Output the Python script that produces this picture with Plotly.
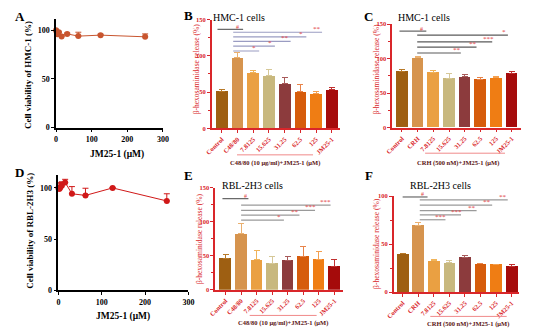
import plotly.graph_objects as go

# ---------------- data ----------------
conc = [0, 1.95, 3.9, 7.8, 15.6, 31.25, 62.5, 125, 250]
via_hmc = [100, 98.3, 96, 98, 93.7, 96.3, 94, 95, 93.3]
via_hmc_err = [1, 1, 1.5, 1, 2, 1, 4, 1, 3]
via_rbl = [100, 99, 100, 102, 105.4, 94.3, 92.7, 100, 87.3]
via_rbl_err = [5, 6, 5, 4, 3, 7, 7, 0.5, 7]

cats_c48 = ["Control", "C48/80", "7.8125", "15.625", "31.25", "62.5", "125", "JM25-1"]
cats_crh = ["Control", "CRH", "7.8125", "15.625", "31.25", "62.5", "125", "JM25-1"]

rel_B = [51.4, 97.7, 76.6, 73.4, 61.3, 50.5, 48.2, 53.2]
rel_B_err = [2.7, 7.2, 3.6, 7.2, 8.1, 9.9, 2.7, 3.6]
rel_C = [81.2, 101.4, 80.3, 71.8, 73.7, 70.4, 72.3, 78.4]
rel_C_err = [2.8, 1.4, 2.8, 6.6, 3.3, 2.8, 1.4, 3.3]
rel_E = [46.4, 82.8, 44.0, 39.2, 43.5, 49.3, 45.0, 34.9]
rel_E_err = [5.3, 15.3, 14.4, 9.6, 5.3, 13.9, 11.0, 9.6]
rel_F = [39.9, 69.3, 32.8, 30.4, 36.5, 29.7, 28.7, 27.0]
rel_F_err = [0.5, 2.7, 1.0, 2.7, 1.7, 0.4, 0.4, 1.7]

# significance: (label, from bar, to bar, height)
sig_B = [("#", 0, 1, 136.6), ("**", 1, 6, 132.5), ("*", 1, 5, 126.2),
         ("**", 1, 4, 120.0), ("*", 1, 3, 113.3), ("*", 1, 2, 106.6)]
sig_C = [("#", 0, 1, 140.0), ("*", 1, 6, 134.0), ("***", 1, 5, 124.2),
         ("**", 1, 4, 116.7), ("**", 1, 3, 108.2)]
sig_E = [("#", 0, 1, 134.2), ("***", 1, 6, 124.6), ("***", 1, 5, 117.0),
         ("**", 1, 4, 109.9), ("*", 1, 3, 102.7)]
sig_F = [("#", 0, 1, 99.0), ("**", 1, 6, 96.0), ("**", 1, 5, 90.5),
         ("**", 1, 4, 84.8), ("***", 1, 3, 80.3), ("***", 1, 2, 75.3)]

bar_colors = ["#9e5f12", "#d6944e", "#eaa042", "#c8b87e", "#8c3b3d", "#d65c0c", "#ef7d14", "#a50b0b"]
err_colors = ["#b87a2a", "#eab070", "#f0b45a", "#d6c898", "#a85a5a", "#e8844a", "#f4a050", "#c03030"]

# ---------------- helpers ----------------
W, H = 550, 336
RED = "#d9262a"
SERIF = "Liberation Serif"

def fx(p):
    return p / W

def fy(p):
    return 1 - p / H

fig = go.Figure()
shapes = []
annos = []

def pa(text, x, y, font, angle=0):
    annos.append(dict(text=text, x=fx(x), y=fy(y), xref="paper", yref="paper",
                      xanchor="center", yanchor="middle", textangle=angle,
                      showarrow=False, font=font))

# ---------------- line panels (A, D) ----------------
def line_panel(idx, xs, ys, errs, color, dom_x, dom_y, yrange, ytitle, ytitle_pos, xtitle_pos):
    xa = "x" if idx == 1 else f"x{idx}"
    ya = "y" if idx == 1 else f"y{idx}"
    fig.add_trace(go.Scatter(
        x=xs, y=ys, xaxis=xa, yaxis=ya, mode="lines+markers",
        line=dict(color=color, width=1),
        marker=dict(color=color, size=6),
        error_y=dict(type="data", array=errs, arrayminus=[0] * len(errs), symmetric=False,
                     color=color, thickness=1, width=3),
        cliponaxis=False, showlegend=False))
    axx = dict(domain=[fx(dom_x[0]), fx(dom_x[1])], range=[0, 300], anchor=ya,
               showline=True, linecolor="black", linewidth=1.6, ticks="outside", ticklen=3,
               tickwidth=1.3, tickcolor="black", tickvals=[0, 100, 200, 300], showgrid=False,
               zeroline=False, tickfont=dict(family=SERIF, size=8, color="black", weight="bold"))
    axy = dict(domain=[fy(dom_y[0]), fy(dom_y[1])], range=yrange, anchor=xa,
               showline=True, linecolor="black", linewidth=1.6, ticks="outside", ticklen=3,
               tickwidth=1.3, tickcolor="black", tickvals=[0, 50, 100], showgrid=False,
               zeroline=False, tickfont=dict(family=SERIF, size=8, color="black", weight="bold"))
    fig.layout[("xaxis" if idx == 1 else f"xaxis{idx}")] = axx
    fig.layout[("yaxis" if idx == 1 else f"yaxis{idx}")] = axy
    pa(ytitle, ytitle_pos[0], ytitle_pos[1],
       dict(family=SERIF, size=9, color="black", weight="bold"), -90)
    pa("JM25-1 (μM)", xtitle_pos[0], xtitle_pos[1],
       dict(family=SERIF, size=9.5, color="black", weight="bold"))

line_panel(1, conc, via_hmc, via_hmc_err, "#c8552f", (49.3, 159), (127, 15), [0, 112],
           "Cell viability of HMC-1 (%)", (20.5, 73), (112, 155))
line_panel(4, conc, via_rbl, via_rbl_err, "#d01818", (51.7, 185.2), (294.3, 175.3), [0, 113],
           "Cell viability of RBL-2H3 (%)", (23, 232.5), (118, 321))

# ---------------- bar panels (B, C, E, F) ----------------
def bar_panel(idx, cats, vals, errs, dom_x, dom_y, xrange, yrange, ytick, title, title_pos,
              ytitle_pos, sigs, offs, sig_col, group_line, group_text, group_text_pos):
    xa = f"x{idx}"
    ya = f"y{idx}"
    xs = list(range(len(cats)))
    for k in xs:
        fig.add_trace(go.Bar(
            x=[k], y=[vals[k]], xaxis=xa, yaxis=ya, width=0.75,
            marker=dict(color=bar_colors[k], line=dict(width=0)),
            error_y=dict(type="data", array=[errs[k]], arrayminus=[0], symmetric=False,
                         color=err_colors[k], thickness=1, width=3),
            showlegend=False))
    fig.layout[f"xaxis{idx}"] = dict(
        domain=[fx(dom_x[0]), fx(dom_x[1])], range=xrange, anchor=ya,
        showline=True, linecolor=RED, linewidth=1.6, ticks="outside", ticklen=3, tickwidth=1.2,
        tickcolor=RED, tickvals=xs, ticktext=cats, tickangle=-45, showgrid=False, zeroline=False,
        tickfont=dict(family=SERIF, size=6.5, color=RED, weight="bold"))
    fig.layout[f"yaxis{idx}"] = dict(
        domain=[fy(dom_y[0]), fy(dom_y[1])], range=yrange, anchor=xa,
        showline=True, linecolor=RED, linewidth=1.6, ticks="outside", ticklen=3, tickwidth=1.2,
        tickcolor=RED, tickvals=ytick, showgrid=False, zeroline=False,
        minor=dict(dtick=25, ticklen=2, tickcolor=RED, ticks="outside", showgrid=False),
        tickfont=dict(family=SERIF, size=6.5, color=RED, weight="bold"))
    pa(title, title_pos[0], title_pos[1], dict(family=SERIF, size=10, color="black"))
    pa("β-hexosaminidase release (%)", ytitle_pos[0], ytitle_pos[1],
       dict(family=SERIF, size=7.5, color=RED), -90)
    hs, he, hl, s, e, l = offs
    for lab, i, j, h in sigs:
        if lab == "#":
            x0, x1, xl, col = i + hs, j + he, j + hl, "#6a6a6a"
        else:
            x0, x1, xl, col = i + s, j + e, j + l, sig_col
        shapes.append(dict(type="line", xref=xa, yref=ya, x0=x0, x1=x1, y0=h, y1=h,
                           line=dict(color=col, width=1.2)))
        annos.append(dict(text=lab, x=xl, y=h, xref=xa, yref=ya, showarrow=False,
                          xanchor="center", yanchor="bottom", yshift=-3 if lab != "#" else -2.5,
                          font=dict(family=SERIF, size=7 if lab != "#" else 6, color="#e23a3a")))
    shapes.append(dict(type="line", xref="paper", yref="paper",
                       x0=fx(group_line[0]), x1=fx(group_line[1]), y0=fy(group_line[2]), y1=fy(group_line[2]),
                       line=dict(color="#f08a8a", width=1)))
    pa(group_text, group_text_pos[0], group_text_pos[1],
       dict(family=SERIF, size=6.5, color="#5a1414", weight="bold"))

bar_panel(2, cats_c48, rel_B, rel_B_err, (209.3, 341), (127.7, 16), [-0.62, 7.54], [0, 150],
          [0, 50, 100, 150], "HMC-1 cells", (237.5, 13.5), (193, 67), sig_B,
          (-0.27, 0.36, 0.03, -0.27, 0.38, 0.05), "#9a9cc2",
          (235, 313, 155), "C48/80 (10 μg/ml)+JM25-1 (μM)", (274, 163.5))
bar_panel(3, cats_crh, rel_C, rel_C_err, (394.3, 526), (127, 20.7), [-0.62, 7.56], [0, 150],
          [0, 50, 100, 150], "HMC-1 cells", (426.7, 13.5), (378, 67), sig_C,
          (-0.16, 0.55, 0.22, -0.03, 0.75, 0.5), "#5a5a5a",
          (428, 510, 153.3), "CRH (500 nM)+JM25-1 (μM)", (461.7, 163))
bar_panel(5, cats_c48, rel_E, rel_E_err, (212.7, 343.3), (293.7, 189), [-0.66, 7.52], [0, 150],
          [0, 50, 100, 150], "RBL-2H3 cells", (250.8, 186.5), (196.7, 240.8), sig_E,
          (-0.2, 0.47, 0.26, 0.0, 0.75, 0.45), "#9a9a9a",
          (248, 316.7, 320), "C48/80 (10 μg/ml)+JM25-1 (μM)", (281.7, 327.7))
bar_panel(6, cats_crh, rel_F, rel_F_err, (396, 524.3), (296, 197.3), [-0.56, 7.47], [0, 100],
          [0, 50, 100], "RBL-2H3 cells", (444, 186.5), (378.3, 245.8), sig_F,
          (0.0, 0.6, 0.25, 0.1, 0.75, 0.45), "#9a9a9a",
          (433.3, 511.7, 321), "CRH (500 nM)+JM25-1 (μM)", (471.7, 329))

# panel letters
for letter, (lx, ly) in zip(["A", "B", "C", "D", "E", "F"],
                            [(12, 13), (185, 12), (370, 13), (12, 173.5), (185, 176), (370, 176)]):
    pa(letter, lx, ly, dict(family=SERIF, size=13, color="black", weight="bold"))

fig.update_layout(width=W, height=H, margin=dict(l=0, r=0, t=0, b=0),
                  paper_bgcolor="white", plot_bgcolor="white", showlegend=False,
                  shapes=shapes, annotations=annos, bargap=0)
fig.write_html("out.html", config={"displayModeBar": False},
               post_script="document.body.style.margin='0';")
